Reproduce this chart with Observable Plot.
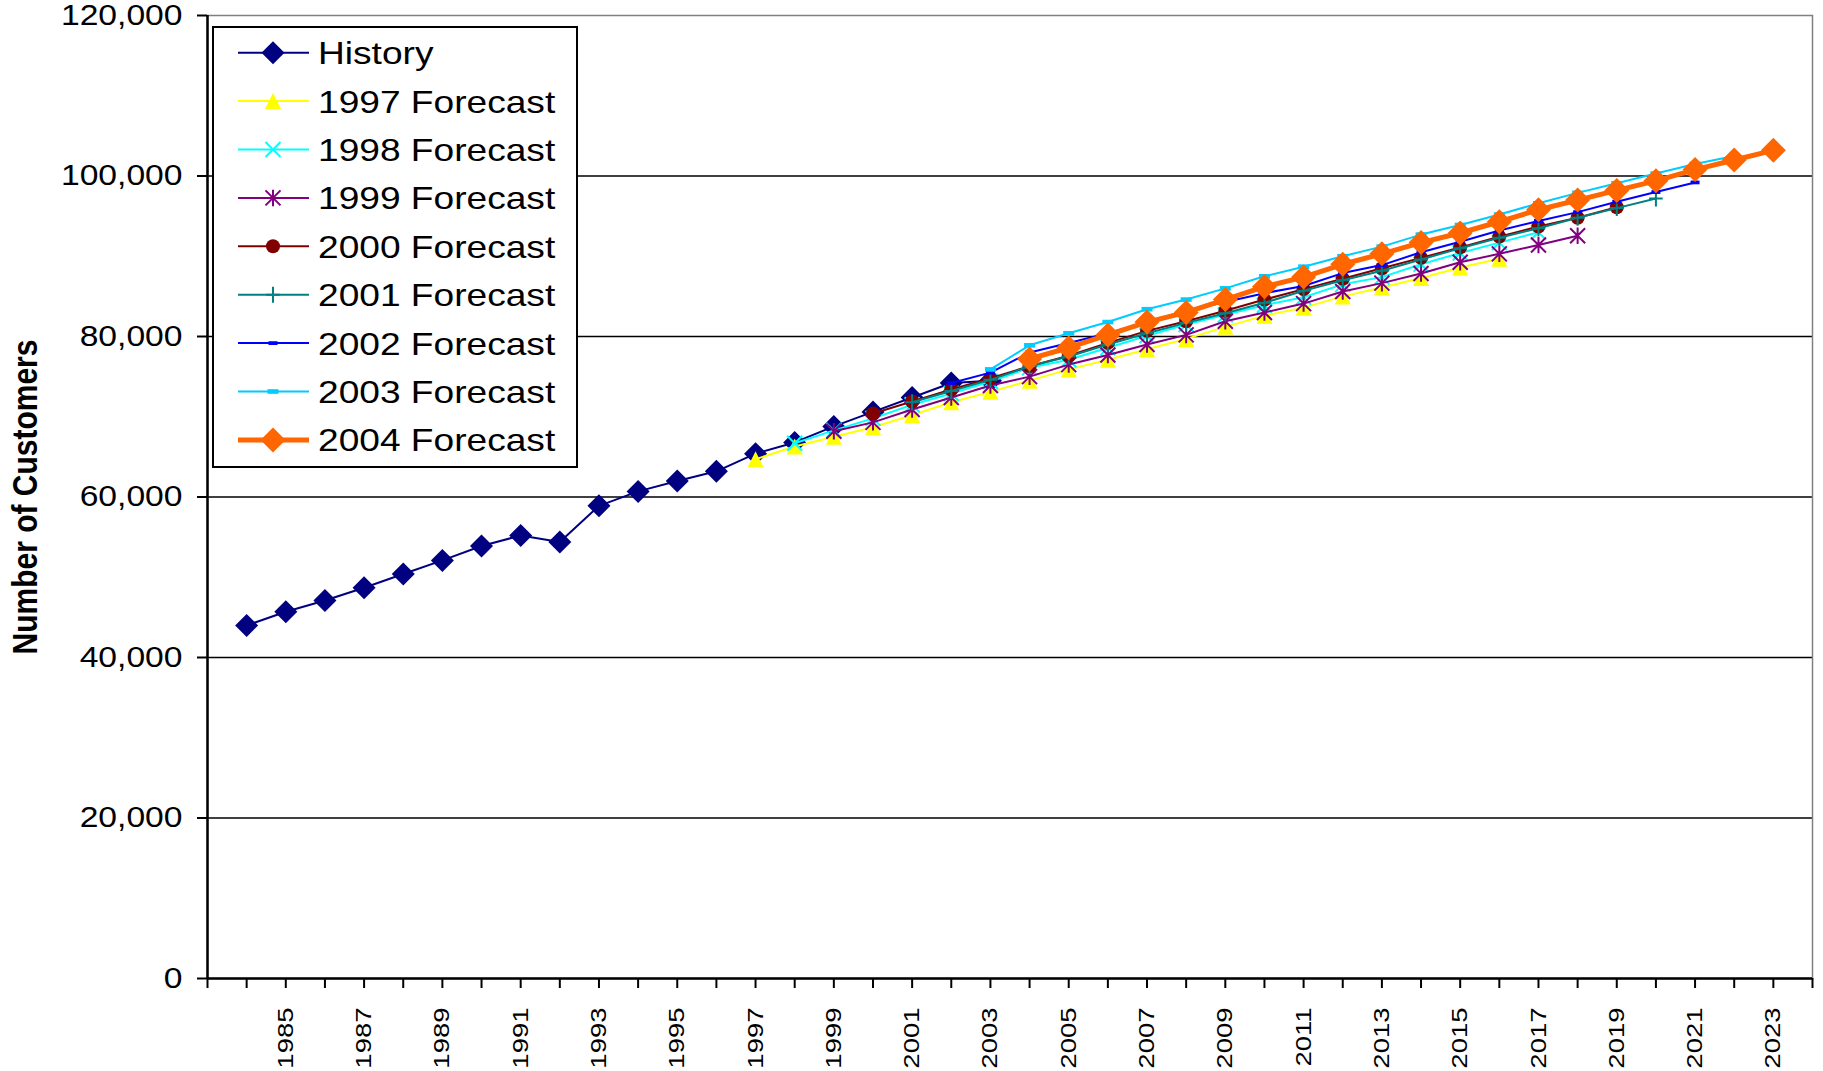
<!DOCTYPE html>
<html>
<head>
<meta charset="utf-8">
<title>Number of Customers: History and Forecasts</title>
<script src="https://cdn.jsdelivr.net/npm/d3@7"></script>
<script src="https://cdn.jsdelivr.net/npm/@observablehq/plot@0.6"></script>
<style>
  body { margin: 0; background: #fff; }
  #chart { position: relative; width: 1823px; height: 1071px; font-family: "Liberation Sans", Arial, sans-serif; }
  #legend { position: absolute; left: 212px; top: 26px; width: 362px; height: 438px; border: 2px solid #000; background: #fff; }
  #legend svg { display: block; overflow: visible; }
</style>
</head>
<body>
<div id="chart"><div id="legend"></div></div>
<script>
// ---- Data: customer counts by year ----
const historyStart = 1984;
const history = [44000, 45700, 47100, 48700, 50400, 52100, 53900, 55200, 54400, 58900,
                 60700, 62000, 63200, 65400, 66800, 68800, 70600, 72400, 74200, 74500];

const forecast1997 = [64700, 66300, 67500, 68700, 70200, 71800, 73100, 74500, 75900, 77100,
                      78400, 79700, 81200, 82600, 83600, 85000, 86100, 87300, 88600, 89700];
const forecast1998 = [66700, 68300, 69800, 71500, 72900, 74400, 76100, 77100, 78600, 80100,
                      81500, 82700, 83900, 84900, 86500, 87400, 89000, 90400, 91700, 93000];
const forecast1999 = [68200, 69300, 70900, 72400, 73900, 75000, 76500, 77700, 79000, 80200,
                      81900, 83000, 84100, 85600, 86650, 87850, 89250, 90300, 91400, 92550];
const forecast2000 = [70400, 71900, 73400, 74800, 76300, 77600, 79200, 80700, 81900, 83200,
                      84600, 85900, 87200, 88500, 89800, 91100, 92450, 93700, 94800, 96100];
const forecast2001 = [71800, 73200, 74600, 76300, 77500, 79000, 80400, 81700, 82900, 84200,
                      85700, 87000, 88200, 89600, 91000, 92300, 93500, 94800, 96000, 97200];
const forecast2002 = [74200, 75500, 78000, 79200, 80400, 81800, 83200, 84300, 85400, 86300,
                      87900, 88900, 90500, 91800, 93200, 94400, 95500, 96800, 98000, 99200];
const forecast2003 = [75900, 78900, 80400, 81800, 83400, 84600, 86000, 87500, 88700, 90000,
                      91200, 92700, 93900, 95200, 96600, 97900, 99100, 100300, 101500, 102500];
const forecast2004 = [77200, 78600, 80200, 81800, 83000, 84600, 86200, 87400, 89000, 90300,
                      91700, 92900, 94300, 95800, 97000, 98200, 99400, 100800, 102000, 103200];

const seriesNames = ["History", "1997 Forecast", "1998 Forecast", "1999 Forecast", "2000 Forecast",
                     "2001 Forecast", "2002 Forecast", "2003 Forecast", "2004 Forecast"];
const seriesStarts = [historyStart, 1997, 1998, 1999, 2000, 2001, 2002, 2003, 2004];
const seriesValues = [history, forecast1997, forecast1998, forecast1999, forecast2000,
                      forecast2001, forecast2002, forecast2003, forecast2004];

const yTitle = "Number of Customers";
const yTicks = [0, 20000, 40000, 60000, 80000, 100000, 120000];
const gridValues = [20000, 40000, 60000, 80000, 100000];
const xDomain = [1983, 2024];

// ---- Marker shapes (r is the half-size of each glyph) ----
const radius = size => Math.sqrt(size / Math.PI);
const diamond = { draw(c, s) { const r = radius(s); c.moveTo(0, -r); c.lineTo(r, 0); c.lineTo(0, r); c.lineTo(-r, 0); c.closePath(); } };
const triangle = { draw(c, s) { const r = radius(s); c.moveTo(0, -r); c.lineTo(r, r); c.lineTo(-r, r); c.closePath(); } };
const cross = { draw(c, s) { const r = radius(s); c.moveTo(-r, -r); c.lineTo(r, r); c.moveTo(-r, r); c.lineTo(r, -r); } };
const asterisk = { draw(c, s) { const r = radius(s); c.moveTo(-r, -r); c.lineTo(r, r); c.moveTo(-r, r); c.lineTo(r, -r); c.moveTo(0, -r * 1.1); c.lineTo(0, r * 1.1); } };
const plus = { draw(c, s) { const r = radius(s); c.moveTo(0, -r); c.lineTo(0, r); c.moveTo(-r * 0.85, 0); c.lineTo(r * 0.85, 0); } };
const disc = { draw(c, s) { const r = radius(s); c.moveTo(r, 0); c.arc(0, 0, r, 0, 2 * Math.PI); c.closePath(); } };
const dash = { draw(c, s) { const r = radius(s); c.rect(-r, -r * 0.42, 2 * r, r * 0.84); } };

// Styling for each series, in drawing order
const seriesStyles = [
  { color: "#000080", width: 2,   symbol: diamond,  r: 11.5, filled: true },
  { color: "#FFFF00", width: 2,   symbol: triangle, r: 8,    filled: true },
  { color: "#00FFFF", width: 2,   symbol: cross,    r: 7.5,  filled: false },
  { color: "#800080", width: 2,   symbol: asterisk, r: 7.5,  filled: false },
  { color: "#800000", width: 2,   symbol: disc,     r: 7,    filled: true },
  { color: "#008080", width: 2,   symbol: plus,     r: 8,    filled: false },
  { color: "#0000FF", width: 2,   symbol: dash,     r: 4.5,  filled: true },
  { color: "#00CCFF", width: 2,   symbol: dash,     r: 5.5,  filled: true },
  { color: "#FF6600", width: 5,   symbol: diamond,  r: 12.5, filled: true }
];

const tables = seriesValues.map((vals, i) =>
  vals.map((v, j) => ({ series: seriesNames[i], year: seriesStarts[i] + j, value: v })));

// ---- Series marks: line first, then markers, series by series ----
const seriesMarks = tables.flatMap((rows, i) => {
  const st = seriesStyles[i];
  return [
    Plot.line(rows, { x: "year", y: "value", stroke: st.color, strokeWidth: st.width, strokeLinejoin: "round" }),
    Plot.dot(rows, {
      x: "year", y: "value", symbol: st.symbol, r: st.r,
      fill: st.filled ? st.color : "none",
      stroke: st.filled ? "none" : st.color,
      strokeWidth: st.filled ? 0 : 2
    })
  ];
});

const chart = Plot.plot({
  width: 1823,
  height: 1071,
  marginLeft: 207,
  marginRight: 11,
  marginTop: 15,
  marginBottom: 93,
  style: { fontFamily: "'Liberation Sans', Arial, sans-serif", color: "#000", background: "#fff" },
  x: { type: "linear", domain: xDomain },
  y: { domain: [0, 120000] },
  marks: [
    Plot.ruleY(gridValues, { stroke: "#000", strokeWidth: 1.4 }),
    Plot.frame({ stroke: "#808080", strokeWidth: 1.5 }),
    ...seriesMarks,
    Plot.ruleY([0], { stroke: "#000", strokeWidth: 2.5 }),
    Plot.ruleX([xDomain[0]], { stroke: "#000", strokeWidth: 2.5, y1: 0, y2: 120000 }),
    Plot.axisY({
      ticks: yTicks, tickFormat: d3.format(","), tickSize: 10, tickPadding: 15,
      fontSize: 29, stroke: "#000", strokeWidth: 2,
      label: yTitle, labelAnchor: "center", labelOffset: 195
    }),
    Plot.axisX({
      ticks: d3.range(xDomain[0], xDomain[1] + 1),
      tickFormat: d => (d % 2 === 1 && d >= 1985 && d <= 2023) ? String(d) : "",
      tickRotate: -90, tickSize: 10, tickPadding: 19, fontSize: 22,
      stroke: "#000", strokeWidth: 2, label: null
    })
  ]
});

document.getElementById("chart").prepend(chart);

// Stretch the axis glyphs to the chart's wide lettering
const svg = d3.select(chart);
const widen = (sel, s) => sel.each(function () {
  const t = this.getAttribute("transform") || "";
  this.setAttribute("transform", t + " " + s);
});
widen(svg.selectAll('g[aria-label="y-axis tick label"] text'), "scale(1.16,1)");
widen(svg.selectAll('g[aria-label="x-axis tick label"] text'), "scale(1.25,1)");
const yLabel = svg.selectAll('g[aria-label="y-axis label"] text');
yLabel.text(yTitle).attr("font-size", 30).attr("font-weight", "bold");
widen(yLabel, "scale(1,1.16)");

// ---- Legend ----
const rowGap = 48.4, firstRow = 24.7;
const lg = d3.select("#legend").append("svg").attr("width", 362).attr("height", 438);
seriesNames.forEach((name, i) => {
  const st = seriesStyles[i];
  const y = firstRow + i * rowGap;
  const g = lg.append("g");
  g.append("line").attr("x1", 24).attr("x2", 95).attr("y1", y).attr("y2", y)
    .attr("stroke", st.color).attr("stroke-width", st.width);
  const p = d3.path();
  st.symbol.draw(p, Math.PI * st.r * st.r);
  g.append("path").attr("d", p.toString()).attr("transform", `translate(59,${y})`)
    .attr("fill", st.filled ? st.color : "none")
    .attr("stroke", st.filled ? "none" : st.color)
    .attr("stroke-width", st.filled ? 0 : 2);
  g.append("text").attr("transform", `translate(104,${y}) scale(1.16,1)`)
    .attr("dy", "0.36em").attr("font-size", 32).attr("fill", "#000")
    .attr("font-family", "'Liberation Sans', Arial, sans-serif")
    .text(name);
});
</script>
</body>
</html>
